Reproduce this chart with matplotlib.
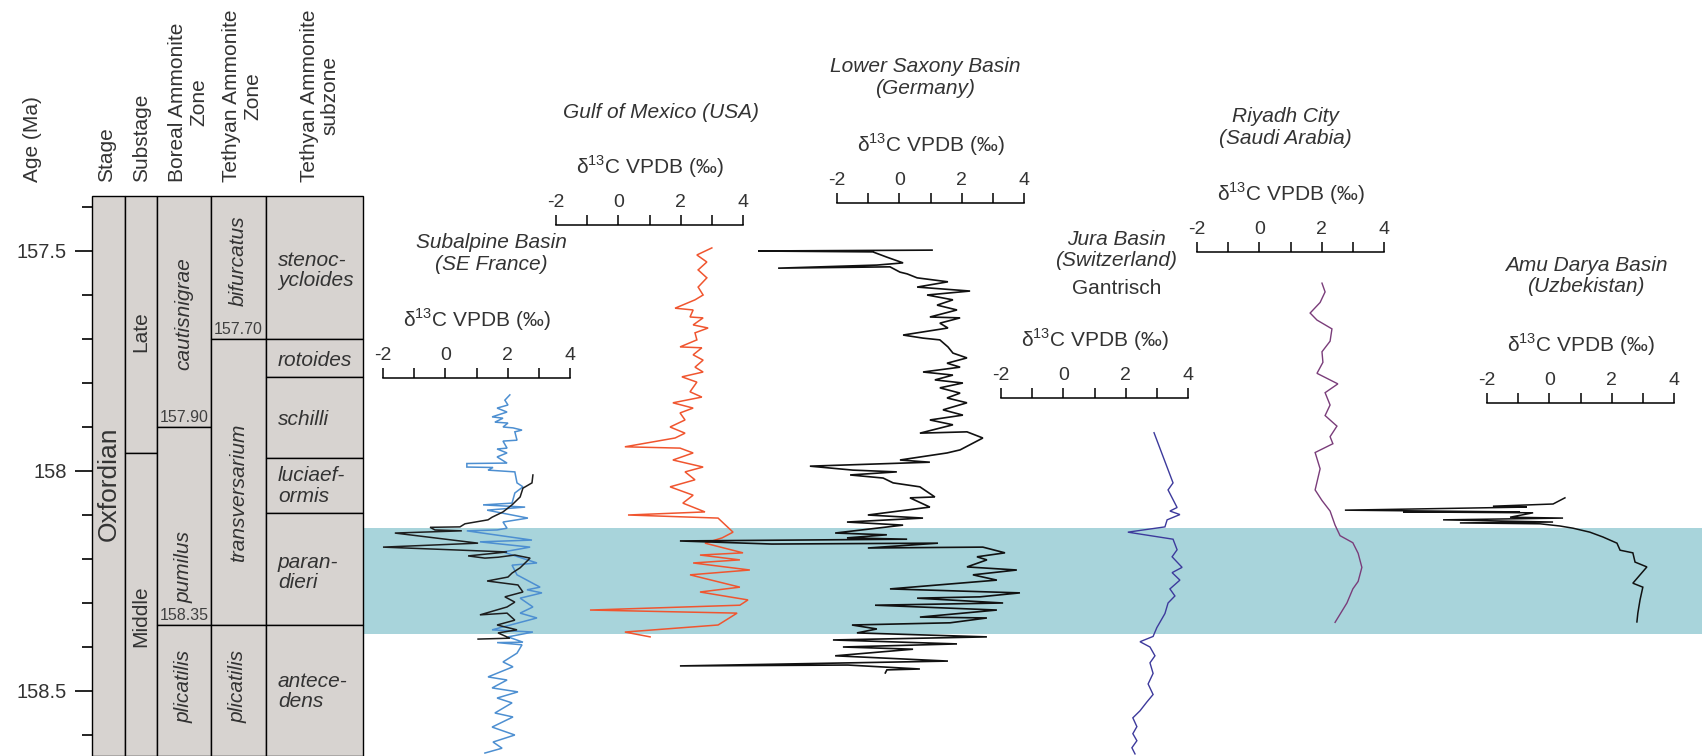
import matplotlib.pyplot as plt
from matplotlib.patches import Rectangle
from matplotlib.ticker import MultipleLocator

plt.rcParams['font.family'] = ['Liberation Sans', 'DejaVu Sans']
plt.rcParams['mathtext.fontset'] = 'custom'
plt.rcParams['mathtext.rm'] = 'Liberation Sans'
plt.rcParams['axes.unicode_minus'] = False
plt.rcParams['text.color'] = '#333333'

# ---------------- biostratigraphy (ages in Ma) ----------------
stage_names = ["Oxfordian"]
substage_bounds = [157.96]
substage_names = ["Late", "Middle"]
boreal_bounds = [157.90, 158.35]
boreal_names = ["cautisnigrae", "pumilus", "plicatilis"]
tethyan_bounds = [157.70, 158.35]
tethyan_names = ["bifurcatus", "transversarium", "plicatilis"]
subzone_bounds = [157.70, 157.786, 157.97, 158.095, 158.35]
subzone_names = ["stenoc-\nycloides", "rotoides", "schilli", "luciaef-\normis",
                 "paran-\ndieri", "antece-\ndens"]
# where each name sits inside its box
stage_label_age = [158.03]
substage_label_age = [157.684, 158.33]
boreal_label_age = [157.643, 158.218, 158.49]
tethyan_label_age = [157.523, 158.05, 158.49]
subzone_label_age = [157.545, 157.75, 157.882, 158.034, 158.23, 158.502]

# shaded interval
band = [158.13, 158.37]

# ---------------- d13C records: (age Ma, d13C permil) ----------------
subalpine = [
    (157.827, 2.07), (157.839, 1.91), (157.850, 2.01), (157.857, 1.66), (157.866, 1.98),
    (157.877, 1.50), (157.880, 1.85), (157.889, 1.59), (157.891, 2.01), (157.900, 1.85),
    (157.902, 2.17), (157.907, 2.46), (157.911, 2.23), (157.930, 2.30), (157.932, 1.85),
    (157.948, 1.98), (157.950, 1.66), (157.959, 1.98), (157.968, 1.66), (157.982, 1.98),
    (157.983, 0.69), (157.991, 0.69), (157.992, 1.53), (157.998, 1.37), (158.002, 2.23),
    (158.027, 2.30), (158.036, 2.49), (158.050, 2.23), (158.073, 2.14), (158.077, 1.21),
    (158.082, 2.56), (158.089, 1.34), (158.107, 2.65), (158.116, 1.85), (158.130, 1.98),
    (158.134, 1.66), (158.136, 0.69), (158.157, 2.78), (158.161, 1.11), (158.173, 2.72),
    (158.184, 1.85), (158.209, 2.94), (158.214, 2.14), (158.236, 2.30), (158.264, 3.04),
    (158.270, 2.62), (158.277, 3.10), (158.289, 2.40), (158.309, 2.81), (158.323, 2.40),
    (158.334, 2.94), (158.361, 1.50), (158.366, 2.81), (158.377, 2.01), (158.389, 2.49),
    (158.390, 1.66), (158.395, 2.46), (158.414, 2.30), (158.434, 1.85), (158.445, 2.17),
    (158.468, 1.37), (158.475, 1.98), (158.493, 1.50), (158.502, 2.33), (158.516, 1.66),
    (158.527, 2.14), (158.550, 1.59), (158.559, 2.17), (158.582, 1.50), (158.600, 2.23),
    (158.616, 1.53), (158.630, 1.82), (158.641, 1.27)]
subalpine_2 = [
    (158.009, 2.81), (158.027, 2.78), (158.039, 2.49), (158.059, 2.40), (158.077, 2.14),
    (158.093, 1.85), (158.105, 1.50), (158.111, 1.37), (158.120, 0.63), (158.127, 0.47),
    (158.128, -0.49), (158.134, -0.33), (158.136, 0.53), (158.141, -1.62), (158.164, 1.05),
    (158.173, -2.00), (158.184, 1.98), (158.193, 0.73), (158.198, 1.27), (158.196, 1.69),
    (158.191, 2.23), (158.198, 2.72), (158.220, 2.40), (158.232, 2.14), (158.241, 2.01),
    (158.250, 1.34), (158.259, 2.33), (158.275, 2.49), (158.286, 1.91), (158.298, 2.23),
    (158.309, 1.98), (158.327, 1.11), (158.323, 1.98), (158.339, 2.23), (158.350, 1.66),
    (158.361, 2.30), (158.368, 1.69), (158.380, 2.07), (158.382, 1.05)]
gulf = [
    (157.493, 3.00), (157.509, 2.52), (157.525, 2.84), (157.543, 2.56), (157.561, 2.84),
    (157.582, 2.56), (157.600, 2.72), (157.611, 2.46), (157.630, 1.82), (157.634, 2.40),
    (157.650, 2.30), (157.652, 2.72), (157.668, 2.40), (157.675, 2.88), (157.686, 2.46),
    (157.702, 2.52), (157.718, 1.98), (157.720, 2.68), (157.736, 2.40), (157.748, 2.72),
    (157.764, 2.46), (157.775, 2.72), (157.786, 2.04), (157.798, 2.52), (157.820, 2.30),
    (157.832, 2.68), (157.845, 1.75), (157.857, 2.40), (157.868, 1.98), (157.884, 2.14),
    (157.900, 1.66), (157.914, 2.14), (157.925, 1.82), (157.945, 0.21), (157.948, 1.98),
    (157.959, 2.40), (157.975, 1.75), (157.991, 2.72), (158.002, 2.14), (158.020, 2.46),
    (158.036, 1.66), (158.055, 2.40), (158.073, 2.07), (158.093, 2.78), (158.100, 0.31),
    (158.107, 3.20), (158.139, 3.68), (158.152, 3.33), (158.164, 2.78), (158.186, 4.00),
    (158.191, 2.62), (158.202, 3.90), (158.209, 2.40), (158.225, 4.22), (158.236, 2.30),
    (158.264, 3.90), (158.275, 2.62), (158.293, 4.16), (158.305, 3.90), (158.316, -0.91),
    (158.323, 3.81), (158.350, 3.20), (158.366, 0.21), (158.377, 1.02)]
lower_saxony = [
    (157.498, 1.05), (157.500, -4.53), (157.502, -0.85), (157.514, -0.40), (157.527, 0.12),
    (157.532, -0.72), (157.539, -3.89), (157.536, -0.30), (157.548, 0.02), (157.552, 0.25),
    (157.561, 0.57), (157.570, 1.56), (157.582, 0.57), (157.591, 2.27), (157.600, 0.89),
    (157.611, 1.72), (157.623, 1.21), (157.634, 1.85), (157.650, 0.98), (157.652, 1.95),
    (157.664, 1.30), (157.675, 1.56), (157.691, 0.12), (157.698, 0.76), (157.702, 1.30),
    (157.718, 1.56), (157.732, 1.72), (157.743, 2.17), (157.755, 1.53), (157.764, 1.95),
    (157.775, 0.76), (157.782, 1.72), (157.793, 1.14), (157.800, 2.04), (157.811, 1.30),
    (157.823, 1.95), (157.834, 1.53), (157.845, 2.17), (157.861, 1.40), (157.873, 2.04),
    (157.884, 0.98), (157.895, 1.72), (157.914, 0.66), (157.911, 2.17), (157.925, 2.68),
    (157.952, 1.95), (157.959, 1.53), (157.975, 0.02), (157.980, 0.98), (157.989, -2.87),
    (157.998, -1.49), (158.002, -0.08), (158.009, -1.58), (158.016, -0.52), (158.027, -0.20),
    (158.036, 0.66), (158.059, 1.14), (158.061, 0.34), (158.082, 0.98), (158.100, -1.01),
    (158.107, 0.76), (158.116, -1.68), (158.123, 0.12), (158.141, -2.06), (158.145, -0.40),
    (158.152, -1.68), (158.155, 0.25), (158.159, -7.04), (158.166, -4.09), (158.164, 1.24),
    (158.175, -1.01), (158.173, 2.68), (158.186, 3.39), (158.195, 2.49), (158.202, 2.81),
    (158.218, 2.17), (158.225, 3.77), (158.236, 2.36), (158.248, 3.13), (158.268, -0.30),
    (158.277, 3.87), (158.286, 2.59), (158.289, 0.57), (158.300, 3.33), (158.305, -0.78),
    (158.316, 3.13), (158.332, 0.66), (158.334, 2.81), (158.345, 1.63), (158.350, -1.52),
    (158.359, -0.72), (158.368, -1.36), (158.377, 2.81), (158.384, -2.13), (158.393, 1.85),
    (158.400, -1.81), (158.405, 0.44), (158.420, -2.06), (158.432, 1.56), (158.443, -7.04),
    (158.441, -1.65), (158.450, 0.66), (158.452, -0.40), (158.459, -0.45)]
jura = [
    (157.913, 2.91), (158.027, 3.52), (158.043, 3.36), (158.083, 3.65), (158.091, 3.42),
    (158.099, 3.74), (158.111, 3.33), (158.127, 3.26), (158.139, 2.07), (158.155, 3.52),
    (158.179, 3.65), (158.195, 3.49), (158.219, 3.81), (158.231, 3.49), (158.248, 3.74),
    (158.268, 3.42), (158.284, 3.58), (158.300, 3.36), (158.324, 3.26), (158.356, 3.00),
    (158.376, 2.88), (158.388, 2.46), (158.400, 2.78), (158.420, 2.94), (158.436, 2.78),
    (158.460, 2.88), (158.484, 2.72), (158.508, 2.88), (158.525, 2.68), (158.545, 2.46),
    (158.561, 2.23), (158.581, 2.36), (158.597, 2.23), (158.613, 2.36), (158.629, 2.20),
    (158.643, 2.30)]
riyadh = [
    (157.573, 2.01), (157.593, 2.11), (157.617, 1.95), (157.641, 1.63), (157.657, 1.85),
    (157.677, 2.33), (157.705, 2.27), (157.729, 2.01), (157.753, 2.04), (157.778, 1.85),
    (157.802, 2.52), (157.822, 2.11), (157.850, 2.27), (157.874, 2.11), (157.898, 2.49),
    (157.922, 2.27), (157.938, 2.36), (157.958, 1.79), (157.995, 1.95), (158.043, 1.79),
    (158.067, 2.01), (158.091, 2.27), (158.123, 2.43), (158.147, 2.59), (158.163, 3.00),
    (158.187, 3.17), (158.219, 3.29), (158.251, 3.17), (158.268, 3.00), (158.300, 2.81),
    (158.344, 2.43)]
amu_darya = [
    (158.061, 0.50), (158.075, 0.12), (158.080, -1.81), (158.082, -0.72), (158.089, -6.56),
    (158.093, -0.94), (158.093, -4.69), (158.095, -0.52), (158.105, -1.26), (158.107, 0.44),
    (158.111, -3.41), (158.116, 0.12), (158.118, -2.87), (158.120, -0.30), (158.125, 0.34),
    (158.130, 0.76), (158.139, 1.30), (158.150, 1.72), (158.164, 2.17), (158.180, 2.27),
    (158.186, 2.68), (158.207, 2.75), (158.218, 3.13), (158.255, 2.68), (158.264, 3.00),
    (158.293, 2.91), (158.323, 2.84), (158.343, 2.81)]

# ---------------- figure ----------------
W, H = 1702, 756
fig = plt.figure(figsize=(W / 100, H / 100), dpi=100)
fig.patch.set_facecolor('white')


def age_at(y):
    # age scale of the page: 157.5 Ma at row 251, 440 px per Ma
    return 157.5 + (y - 251) / 440.0


def fpos(x, y):
    return x / W, 1 - y / H


# background strip for the shaded interval
axb = fig.add_axes([0, 0, 1, 1])
axb.set_xlim(0, W)
axb.set_ylim(age_at(H), age_at(0))
axb.axis('off')
axb.axhspan(band[0], band[1], xmin=363 / W, xmax=1, color='#a8d4db', lw=0)

# ---------------- stratigraphic column ----------------
axc = fig.add_axes([92 / W, 0, 271 / W, (H - 196) / H])
axc.set_xlim(0, 271)
axc.set_ylim(age_at(H), age_at(196))
for s in axc.spines.values():
    s.set_visible(False)
axc.set_xticks([])
axc.set_yticks([157.5, 158.0, 158.5])
axc.set_yticklabels(['157.5', '158', '158.5'])
axc.yaxis.set_minor_locator(MultipleLocator(0.1))
axc.tick_params(axis='y', which='major', length=12, width=1.2, pad=6, labelsize=14.5,
                labelcolor='#333333')
axc.tick_params(axis='y', which='minor', length=7, width=1.2)

col_top = axc.get_ylim()[1]
col_bot = axc.get_ylim()[0]
gray = '#d7d3d0'

columns = [
    (0, 33, [], stage_names, stage_label_age, 'stage'),
    (33, 65, substage_bounds, substage_names, substage_label_age, 'substage'),
    (65, 119, boreal_bounds, boreal_names, boreal_label_age, 'zone'),
    (119, 174, tethyan_bounds, tethyan_names, tethyan_label_age, 'zone'),
    (174, 271, subzone_bounds, subzone_names, subzone_label_age, 'subzone'),
]
for x0, x1, bounds, names, label_ages, kind in columns:
    edges = [col_top] + bounds + [col_bot]
    for i, name in enumerate(names):
        axc.add_patch(Rectangle((x0, edges[i]), x1 - x0, edges[i + 1] - edges[i],
                                facecolor=gray, edgecolor='black', lw=1.0, clip_on=False))
        xc = (x0 + x1) / 2
        if kind == 'stage':
            axc.text(xc, label_ages[i], name, rotation=90, ha='center', va='center',
                     fontsize=19)
        elif kind == 'substage':
            axc.text(xc, label_ages[i], name, rotation=90, ha='center', va='center',
                     fontsize=15)
        elif kind == 'zone':
            axc.text(xc, label_ages[i], name, rotation=90, ha='center', va='center',
                     fontsize=15, style='italic')
        else:
            axc.text(x0 + 12, label_ages[i], name, ha='left', va='center',
                     fontsize=15, style='italic', linespacing=1.08)

# boundary ages written on top of the zone limits
for xc, a in [(92, 157.90), (92, 158.35), (146.5, 157.70)]:
    axc.annotate('%.2f' % a, xy=(xc, a), xytext=(0, 7), textcoords='offset points',
                 ha='center', va='center', fontsize=11.5, color='#404040')

# column headers
headers = [(33, "Age (Ma)"), (107, "Stage"), (142, "Substage"),
           (188, "Boreal Ammonite\nZone"), (242, "Tethyan Ammonite\nZone"),
           (320, "Tethyan Ammonite\nsubzone")]
for x, txt in headers:
    fig.text(*fpos(x, 182), txt, rotation=90, ha='center', va='bottom', fontsize=15,
             linespacing=1.12)

# ---------------- d13C panels ----------------
d13c_label = "δ$^{13}$C VPDB (‰)"


def panel(x_left, y_bar):
    ax = fig.add_axes([x_left / W, 0, 187 / W, (H - y_bar) / H])
    ax.set_xlim(-2, 4)
    ax.set_ylim(age_at(H), age_at(y_bar))
    ax.patch.set_visible(False)
    for s in ['left', 'right', 'bottom']:
        ax.spines[s].set_visible(False)
    ax.spines['top'].set_linewidth(1.1)
    ax.xaxis.tick_top()
    ax.set_xticks([-2, 0, 2, 4])
    ax.set_xticks([-1, 1, 3], minor=True)
    ax.tick_params(axis='x', which='both', direction='out', length=7, width=1.1,
                   pad=3, labelsize=14, labelcolor='#333333')
    ax.set_yticks([])
    ax.annotate(d13c_label, xy=(0.5, 1), xycoords='axes fraction', xytext=(0, 42),
                textcoords='offset points', ha='center', va='center', fontsize=15)
    return ax


def curve(ax, rec, color, lw=1.0):
    ages, vals = zip(*rec)
    ax.plot(vals, ages, color=color, lw=lw, clip_on=False, solid_joinstyle='miter')


ax1 = panel(383, 378)
curve(ax1, subalpine, '#4d8fd1', 1.1)
curve(ax1, subalpine_2, '#1e1e1e', 1.1)

ax2 = panel(556, 225)
curve(ax2, gulf, '#f0552f', 1.1)

ax3 = panel(837, 203)
curve(ax3, lower_saxony, '#111111', 1.2)

ax4 = panel(1001, 398)
curve(ax4, jura, '#3d3a9c', 1.0)

ax5 = panel(1197, 252)
curve(ax5, riyadh, '#7a3d7a', 1.0)

ax6 = panel(1487, 403)
curve(ax6, amu_darya, '#111111', 1.1)

# site names
titles = [(491, 253.5, "Subalpine Basin\n(SE France)"),
          (661, 112, "Gulf of Mexico (USA)"),
          (925, 77.5, "Lower Saxony Basin\n(Germany)"),
          (1116, 250, "Jura Basin\n(Switzerland)"),
          (1285, 127.5, "Riyadh City\n(Saudi Arabia)"),
          (1586, 276, "Amu Darya Basin\n(Uzbekistan)")]
for x, y, txt in titles:
    fig.text(*fpos(x, y), txt, ha='center', va='center', multialignment='center',
             fontsize=15, style='italic', linespacing=1.15)
fig.text(*fpos(1117, 288), "Gantrisch", ha='center', va='center', fontsize=15)

fig.savefig('out.png', dpi=100)
